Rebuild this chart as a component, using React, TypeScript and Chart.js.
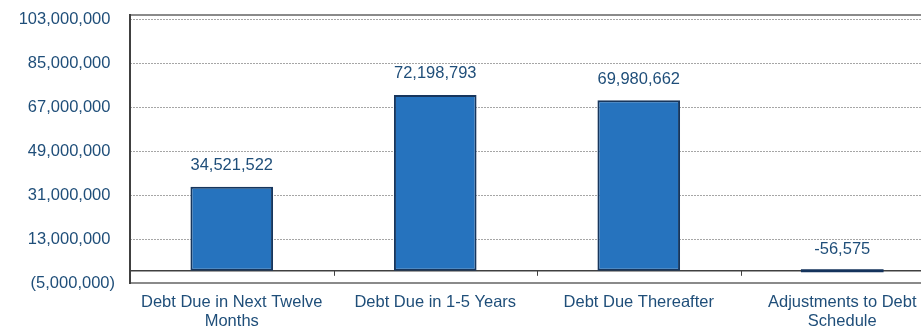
import React, { useEffect, useRef } from "react";
import { Chart, registerables } from "chart.js";

Chart.register(...registerables);

const categories: (string | string[])[] = [
  ["Debt Due in Next Twelve", "Months"],
  "Debt Due in 1-5 Years",
  "Debt Due Thereafter",
  ["Adjustments to Debt", "Schedule"],
];
const values: number[] = [34521522, 72198793, 69980662, -56575];
const yTickValues: number[] = [-5000000, 13000000, 31000000, 49000000, 67000000, 85000000, 103000000];
const yMin = -5000000;
const yMax = 105000000;

const TEXT = "#1F4E79";
const FONT = "Liberation Sans, Arial, sans-serif";

function fmtTick(v: number): string {
  const s = Math.abs(v).toLocaleString("en-US");
  return v < 0 ? "(" + s + ")" : s + " ";
}

const decoPlugin = {
  id: "deco",
  beforeDatasetsDraw(chart: any) {
    const { ctx, chartArea } = chart;
    const y = chart.scales.y;
    const x = chart.scales.x;
    ctx.save();
    // top border
    ctx.strokeStyle = "#8A8A8A";
    ctx.lineWidth = 2;
    ctx.beginPath();
    ctx.moveTo(chartArea.left, chartArea.top);
    ctx.lineTo(chartArea.right, chartArea.top);
    ctx.stroke();
    // left axis
    ctx.strokeStyle = "#404040";
    ctx.beginPath();
    ctx.moveTo(chartArea.left, chartArea.top - 1);
    ctx.lineTo(chartArea.left, chartArea.bottom + 1);
    ctx.stroke();
    // zero line
    const z = y.getPixelForValue(0);
    ctx.lineWidth = 1.5;
    ctx.beginPath();
    ctx.moveTo(chartArea.left, z);
    ctx.lineTo(chartArea.right, z);
    ctx.stroke();
    // category ticks
    ctx.lineWidth = 1;
    for (let i = 0; i < categories.length - 1; i++) {
      const px = Math.round((x.getPixelForValue(i) + x.getPixelForValue(i + 1)) / 2) + 0.5;
      ctx.beginPath();
      ctx.moveTo(px, z);
      ctx.lineTo(px, z + 5);
      ctx.stroke();
    }
    ctx.restore();
  },
  afterDatasetsDraw(chart: any) {
    const { ctx } = chart;
    const meta = chart.getDatasetMeta(0);
    ctx.save();
    meta.data.forEach((bar: any, i: number) => {
      const top = Math.min(bar.y, bar.base);
      if (Math.abs(bar.y - bar.base) < 3) {
        ctx.strokeStyle = "#14335C";
        ctx.lineWidth = 3;
        ctx.beginPath();
        ctx.moveTo(bar.x - bar.width / 2, bar.base);
        ctx.lineTo(bar.x + bar.width / 2, bar.base);
        ctx.stroke();
      }
      ctx.fillStyle = TEXT;
      ctx.font = "16.5px " + FONT;
      ctx.textAlign = "center";
      ctx.textBaseline = "middle";
      ctx.fillText(values[i].toLocaleString("en-US"), bar.x, top - 21);
    });
    ctx.restore();
  },
};

export default function App() {
  const ref = useRef<HTMLCanvasElement | null>(null);
  useEffect(() => {
    if (!ref.current) return;
    const chart = new Chart(ref.current, {
      type: "bar",
      data: {
        labels: categories,
        datasets: [
          {
            data: values,
            backgroundColor: "#2673BE",
            borderColor: "#17365D",
            borderWidth: 2,
            borderSkipped: false,
            categoryPercentage: 1,
            barPercentage: 0.406,
          },
        ],
      },
      options: {
        responsive: false,
        animation: false,
        devicePixelRatio: 1,
        layout: { padding: { top: 15, right: 6, left: 0, bottom: 0 } },
        plugins: { legend: { display: false }, tooltip: { enabled: false } },
        scales: {
          x: {
            grid: { display: false, drawTicks: false },
            border: { display: true, color: "#8A8A8A", width: 2 },
            ticks: {
              color: TEXT,
              font: { family: FONT, size: 16.5, lineHeight: 1.15 },
              padding: 10,
              maxRotation: 0,
              autoSkip: false,
            },
            afterFit: (s: any) => {
              s.height = 46;
              s.paddingLeft = 0;
              s.paddingRight = 0;
            },
          },
          y: {
            min: yMin,
            max: yMax,
            afterBuildTicks: (s: any) => {
              s.ticks = yTickValues.map((v) => ({ value: v }));
            },
            grid: { color: "#A6A6A6", lineWidth: 1, drawTicks: false },
            border: { display: false, dash: [2, 1] },
            ticks: {
              color: TEXT,
              font: { family: FONT, size: 16.5 },
              padding: 15,
              callback: (v: any) => fmtTick(Number(v)),
            },
            afterFit: (s: any) => {
              s.width = 130;
              s.paddingTop = 0;
              s.paddingBottom = 0;
            },
          },
        },
      } as any,
      plugins: [decoPlugin],
    });
    return () => chart.destroy();
  }, []);
  return (
    <div style={{ position: "absolute", left: 0, top: 0, width: 921, height: 329, overflow: "hidden", background: "#fff" }}>
      <canvas ref={ref} width={950} height={329} style={{ display: "block", width: 950, height: 329 }} />
    </div>
  );
}
